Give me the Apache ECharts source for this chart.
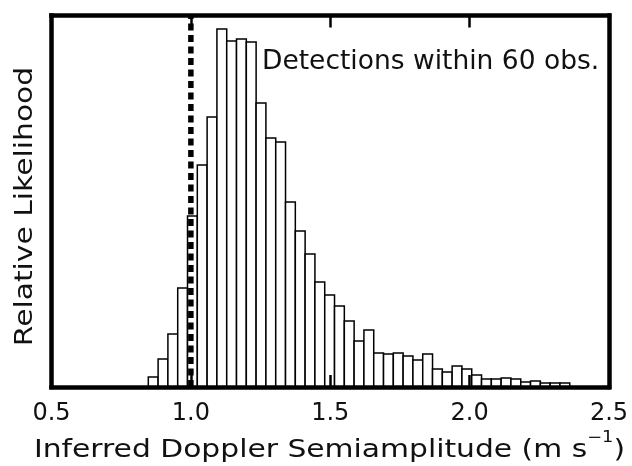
<!DOCTYPE html>
<html>
<head>
<meta charset="utf-8">
<script src="https://cdn.jsdelivr.net/npm/echarts@6/dist/echarts.min.js"></script>
<style>
html,body{margin:0;padding:0;background:#fff;}
#chart{width:632px;height:466px;}
</style>
</head>
<body>
<div id="chart"></div>
<script>
// Histogram of inferred Doppler semiamplitude (relative likelihood, arbitrary units)
const BIN_START = 0.8473;
const BIN_WIDTH = 0.03516;
const counts = [10, 28, 53, 99, 171, 222, 270, 358, 346, 348,
                345, 284, 249, 245, 185, 156, 133, 105, 92, 81,
                66, 46, 57, 34, 33, 34, 31, 27, 33, 18,
                15, 21, 18, 12, 8, 8, 9, 8, 5, 6,
                4, 4, 4];
const xTicks = [0.5, 1.0, 1.5, 2.0, 2.5];
const THRESHOLD = 1.0;
const Y_MAX = 371.5;
const xTitle = 'Inferred Doppler Semiamplitude (m s';
const xTitleSup = '\u22121';
const yTitle = 'Relative Likelihood';
const annotation = 'Detections within 60 obs.';

const FONT = '"DejaVu Sans", "Liberation Sans", sans-serif';
const histData = counts.map((c, i) => [BIN_START + i * BIN_WIDTH, BIN_START + (i + 1) * BIN_WIDTH, c]);

const chart = echarts.init(document.getElementById('chart'), null, {renderer: 'canvas'});

const axisLineStyle = {color: '#000', width: 4.5, cap: 'square'};
const option = {
  animation: false,
  backgroundColor: '#fff',
  grid: {left: 51.5, right: 23, top: 15.5, bottom: 79, show: false},
  xAxis: [
    {
      type: 'value', min: 0.5, max: 2.5, interval: 0.5, position: 'bottom', z: 5,
      axisLine: {show: true, onZero: false, lineStyle: axisLineStyle},
      axisTick: {show: true, inside: true, length: 12, lineStyle: {color: '#000', width: 2.5}},
      axisLabel: {show: true, margin: 15, fontSize: 24, fontFamily: FONT, color: '#111',
                  formatter: v => xTicks.includes(+v.toFixed(1)) ? v.toFixed(1) : ''},
      splitLine: {show: false}
    },
    {
      type: 'value', min: 0.5, max: 2.5, interval: 0.5, position: 'top', z: 5,
      axisLine: {show: true, onZero: false, lineStyle: axisLineStyle},
      axisTick: {show: true, inside: true, length: 12, lineStyle: {color: '#000', width: 2.5}},
      axisLabel: {show: false},
      splitLine: {show: false}
    }
  ],
  yAxis: [
    {
      type: 'value', min: 0, max: Y_MAX, position: 'left', z: 5,
      axisLine: {show: true, onZero: false, lineStyle: axisLineStyle},
      axisTick: {show: false}, axisLabel: {show: false}, splitLine: {show: false}
    },
    {
      type: 'value', min: 0, max: Y_MAX, position: 'right', z: 5,
      axisLine: {show: true, onZero: false, lineStyle: axisLineStyle},
      axisTick: {show: false}, axisLabel: {show: false}, splitLine: {show: false}
    }
  ],
  series: [
    {
      type: 'custom',
      xAxisIndex: 0, yAxisIndex: 0,
      z: 2,
      data: histData,
      renderItem: function (params, api) {
        const p0 = api.coord([api.value(0), api.value(2)]);
        const p1 = api.coord([api.value(1), 0]);
        return {
          type: 'rect',
          shape: {x: p0[0], y: p0[1], width: p1[0] - p0[0], height: p1[1] - p0[1]},
          style: {fill: '#fff', stroke: '#000', lineWidth: 1.5}
        };
      }
    },
    {
      type: 'line',
      xAxisIndex: 0, yAxisIndex: 0,
      z: 4,
      symbol: 'none',
      data: [[THRESHOLD, 0], [THRESHOLD, Y_MAX]],
      lineStyle: {color: '#000', width: 5.5, type: [7, 4.5]}
    }
  ],
  graphic: [
    {
      type: 'text', x: 262, y: 62, z: 10,
      style: {text: annotation, fontSize: 26.5, fontFamily: FONT, fill: '#111',
              align: 'left', verticalAlign: 'middle', textAlign: 'left', textVerticalAlign: 'middle'}
    },
    {
      type: 'text', x: 329.5, y: 450, z: 10, scaleX: 1.19, originX: 0, originY: 0,
      style: {
        text: xTitle + '{sup|' + xTitleSup + '})',
        fontSize: 25, fontFamily: FONT, fill: '#111', lineHeight: 39,
        align: 'center', verticalAlign: 'middle', textAlign: 'center', textVerticalAlign: 'middle',
        rich: {sup: {fontSize: 15, fontFamily: FONT, fill: '#111', lineHeight: 15, verticalAlign: 'top'}}
      }
    },
    {
      type: 'text', x: 25.9, y: 206.5, z: 10, rotation: Math.PI / 2, scaleX: 1.19,
      style: {text: yTitle, fontSize: 25, fontFamily: FONT, fill: '#111',
              align: 'center', verticalAlign: 'middle', textAlign: 'center', textVerticalAlign: 'middle'}
    }
  ]
};
chart.setOption(option);
</script>
</body>
</html>
